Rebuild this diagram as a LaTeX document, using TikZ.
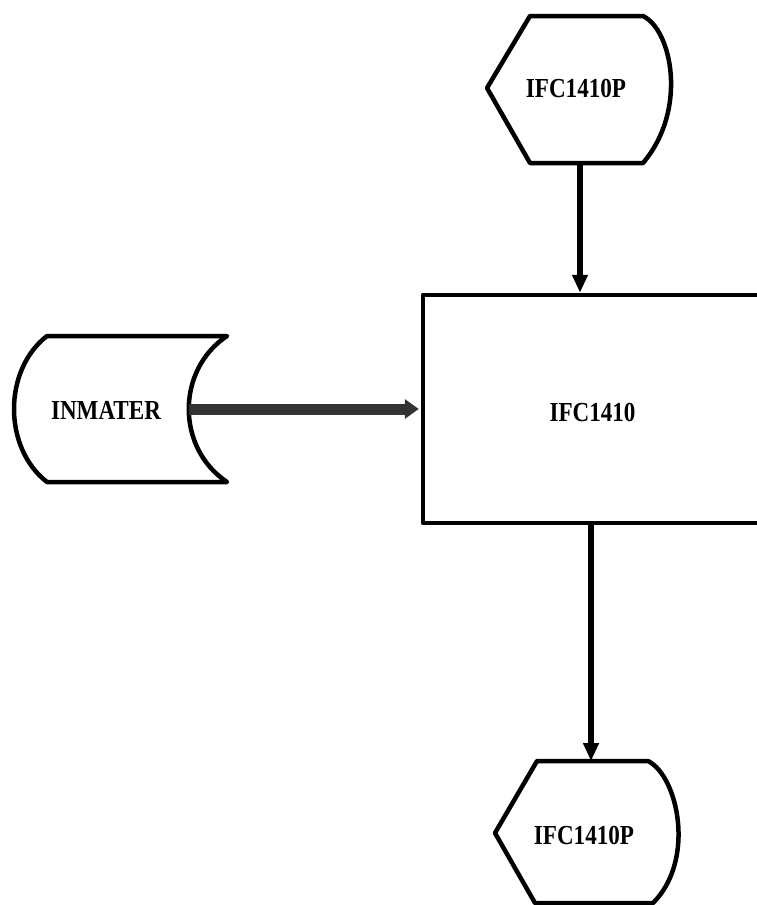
\documentclass[tikz,border=0pt]{standalone}
\usepackage{fontspec}
\usepackage{graphicx}
\setmainfont{Liberation Serif}
\usetikzlibrary{arrows.meta}
\tikzset{
  outline/.style={line width=4.5pt, line join=round, draw=black},
  lbl/.style={font=\fontsize{27.5}{28}\selectfont\bfseries, inner sep=0pt},
  flow/.style={line width=5.5pt, -{Triangle[length=18pt,width=15pt]}},
  thickflow/.style={line width=11pt, draw=black!80, -{Triangle[length=14pt,width=19pt]}, shorten >=2pt},
}
\newcommand{\cond}[1]{\scalebox{0.84}[1]{#1}}
\begin{document}
\begin{tikzpicture}[x=1pt,y=-1pt]
\useasboundingbox (0,0) rectangle (757,905);
\clip (0,0) rectangle (757,905);
\fill[white] (0,0) rectangle (757,905);
% top display
\draw[outline] (487,88) -- (530,16) -- (643,16) .. controls (672,30) and (688,110) .. (643,163) -- (530,163) -- cycle;
\node[lbl] (toplbl) at (576,88) {\cond{IFC1410P}};
\coordinate (topB) at (580,163);
% main box
\node[outline, rectangle, minimum width=347pt, minimum height=228pt, inner sep=0pt] (box) at (596.5,409) {};
\node[lbl] (boxlbl) at (592.5,412) {\cond{IFC1410}};
% INMATER storage
\draw[outline] (47,336) -- (227,336) .. controls (176,370) and (176,448) .. (227,482) -- (47,482) .. controls (3,448) and (3,370) .. (47,336) -- cycle;
\node[lbl] (inlbl) at (106,410) {\cond{INMATER}};
\coordinate (inR) at (189,409);
% bottom display
\draw[outline] (495,833) -- (537,761) -- (648,761) .. controls (678,776) and (696,860) .. (653,903) -- (535,903) -- cycle;
\node[lbl] (botlbl) at (584,835) {\cond{IFC1410P}};
\coordinate (botT) at (591,761);
% connectors
\draw[flow] (topB) -- (box.north -| topB);
\draw[thickflow] (inR) -- (box.west);
\draw[flow] (box.south -| botT) -- (botT);
\end{tikzpicture}
\end{document}
